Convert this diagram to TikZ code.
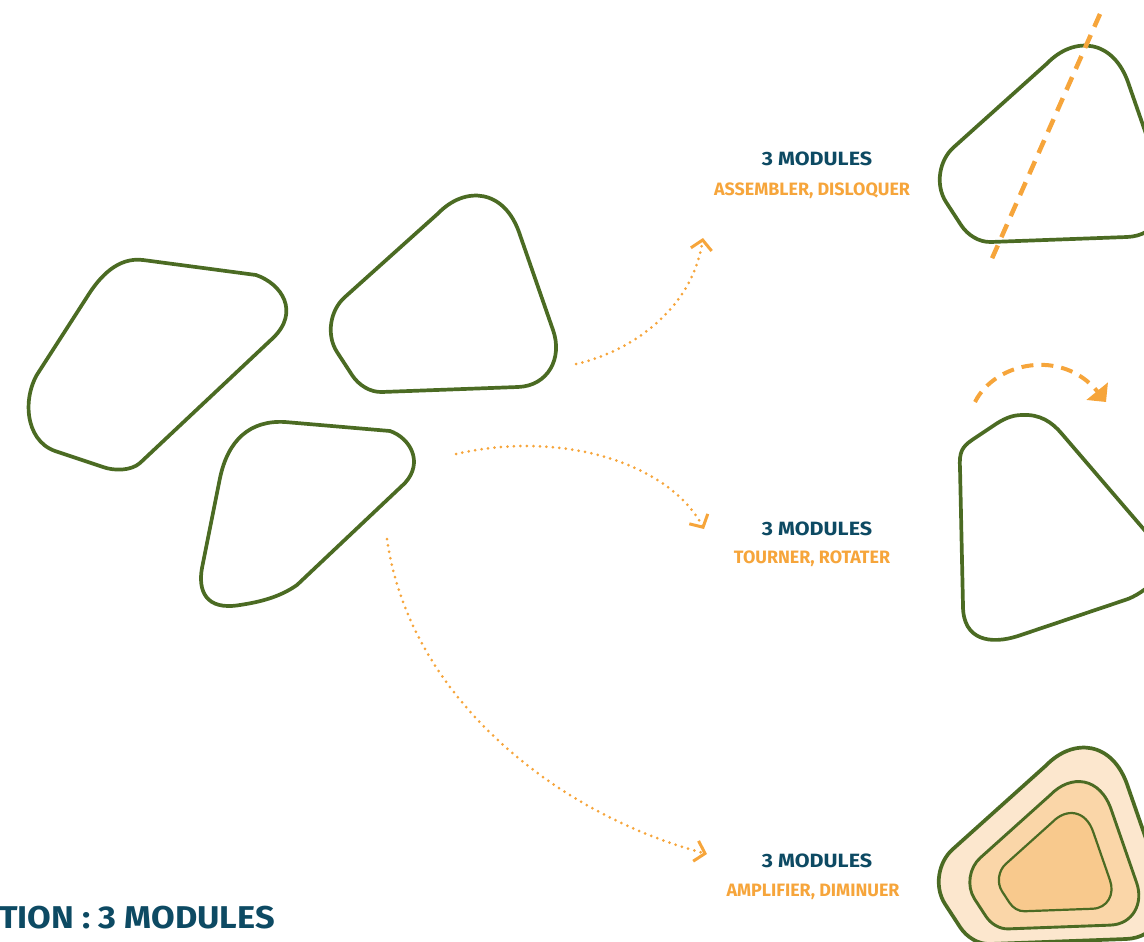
\documentclass[tikz,border=0pt]{standalone}
\usepackage{fontspec}
\setmainfont{Fira Sans}
\newfontfamily\headfont[FakeStretch=1.12]{Fira Sans}
\newfontfamily\titlefont[FakeStretch=1.09]{Fira Sans}
\usetikzlibrary{arrows.meta}
\definecolor{grn}{HTML}{4B6B23}
\definecolor{org}{HTML}{F6A53B}
\definecolor{navy}{HTML}{0D4A63}
\definecolor{fillA}{HTML}{FCE7CE}
\definecolor{fillB}{HTML}{FAD6A8}
\definecolor{fillC}{HTML}{F8C98D}
\tikzset{
  blobB/.pic={\path[pic actions] (-98,5.5) -- (-5,-78) .. controls (22,-106) and (62,-103) .. (77,-56.5) -- (110,38.5) .. controls (120,66.5) and (105,94.5) .. (75,95.5) -- (-61,100.5) .. controls (-73,100.9) and (-84.5,93.5) .. (-91,83.5) -- (-106,60.5) .. controls (-117,43.5) and (-113,18.5) .. (-98,5.5) -- cycle;},
  outline/.style={draw=grn, line width=3.7pt, line join=round},
  headtxt/.style={text=navy, font=\headfont\bfseries\fontsize{19.2}{21}\selectfont, anchor=base, inner sep=0pt},
  subtxt/.style={text=org, font=\bfseries\fontsize{17.9}{19}\selectfont, anchor=base, inner sep=0pt},
  dotarrow/.style={draw=org, line width=3pt, line cap=round, dash pattern=on 0pt off 6.5pt,
     -{Straight Barb[length=9.5pt,width=21pt,line width=3pt]}},
}
\begin{document}
\begin{tikzpicture}[x=1pt,y=-1pt]
\useasboundingbox (0,0) rectangle (1144,942);
\clip (0,0) rectangle (1144,942);
% left shapes
\path[outline] (143,260) -- (256,275) .. controls (282,284) and (300,312) .. (273,338) -- (140,463) .. controls (131,471) and (114,471) .. (103,467) -- (55,451) .. controls (24,440) and (22,395) .. (40,370) -- (87,297) .. controls (100,276) and (118,257) .. (143,260) -- cycle;
\pic[outline] at (443,291.5) {blobB};
\path[outline] (285,422) -- (390,431) .. controls (410,438) and (424,462) .. (405,483) -- (297,585) .. controls (280,597) and (260,602) .. (240,605) .. controls (205,611) and (198,590) .. (202,568) -- (220,478) .. controls (228,440) and (250,420) .. (285,422) -- cycle;
% right shapes
\pic[outline] at (1052,141.5) {blobB};
\path[outline] (1022,415) .. controls (1040,414) and (1052,422) .. (1062,434) -- (1165,554) .. controls (1175,566) and (1145,594) .. (1125,600) -- (1018,636) .. controls (990,645) and (963,640) .. (963,606) -- (960,468) .. controls (959,452) and (962,447) .. (972,440) -- (993,426) .. controls (1003,419) and (1012,415) .. (1022,415) -- cycle;
\pic[draw=grn, fill=fillA, line width=3.7pt] at (1051,843.5) {blobB};
\pic[draw=grn, fill=fillB, line width=2.9pt, scale=0.75] at (1054,853.5) {blobB};
\pic[draw=grn, fill=fillC, line width=2.2pt, scale=0.5] at (1055,861) {blobB};
% cut line
\coordinate (cutT) at (1100,14);
\coordinate (cutB) at (990,263);
\draw[org, line width=4.5pt, dash pattern=on 14pt off 9pt] (cutT) -- (cutB);
% rotation arc
\coordinate (rotS) at (975,402);
\coordinate (rotE) at (1106,402);
\draw[org, line width=4pt, dash pattern=on 12pt off 8pt, -{Triangle[length=14pt,width=27pt]}] (rotS) .. controls (995,362) and (1062,348) .. (rotE);
% labels
\node[headtxt] (h1) at (817,165) {3 MODULES};
\node[subtxt] (s1) at (812,195) {ASSEMBLER, DISLOQUER};
\node[headtxt] (h2) at (817,535.5) {3 MODULES};
\node[subtxt] (s2) at (812,563) {TOURNER, ROTATER};
\node[headtxt] (h3) at (817,867.5) {3 MODULES};
\node[subtxt] (s3) at (813,896) {AMPLIFIER, DIMINUER};
\node[text=navy, font=\titlefont\bfseries\fontsize{31.5}{34}\selectfont, anchor=base west, inner sep=0pt] (title) at (-1,928) {TION : 3 MODULES};
% dotted arrows
\coordinate (a1s) at (576,364);
\coordinate (a1e) at (703,238);
\coordinate (a2s) at (456,454);
\coordinate (a2e) at (704,529);
\coordinate (a3s) at (387,539);
\coordinate (a3e) at (707,854);
\draw[dotarrow] (a1s) .. controls (630,352) and (692,310) .. (a1e);
\draw[dotarrow] (a2s) .. controls (560,430) and (668,462) .. (a2e);
\draw[dotarrow] (a3s) .. controls (410,700) and (560,815) .. (a3e);
\end{tikzpicture}
\end{document}
